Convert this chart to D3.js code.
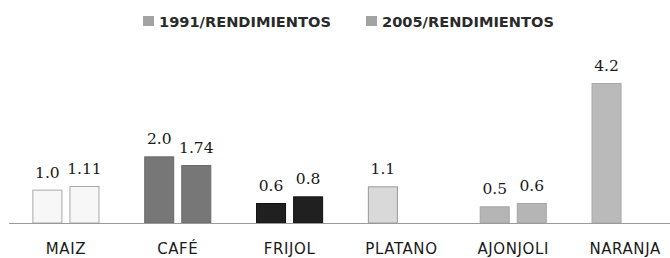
<!DOCTYPE html>
<html><head><meta charset="utf-8">
<script src="https://cdn.jsdelivr.net/npm/d3@7"></script>
<style>html,body{margin:0;padding:0;background:#fff;}</style>
</head><body>
<script>
const categories = ["MAIZ", "CAFÉ", "FRIJOL", "PLATANO", "AJONJOLI", "NARANJA"];
const series = ["1991/RENDIMIENTOS", "2005/RENDIMIENTOS"];
const values1991 = [1.0, 2.0, 0.6, 1.1, 0.5, 4.2];
const values2005 = [1.11, 1.74, 0.8, null, 0.6, null];
const labels1991 = ["1.0", "2.0", "0.6", "1.1", "0.5", "4.2"];
const labels2005 = ["1.11", "1.74", "0.8", "", "0.6", ""];
const categoryFills = ["#f7f7f7", "#777777", "#202020", "#d9d9d9", "#b5b5b5", "#bababa"];
const categoryStrokes = ["#a8a8a8", "#6a6a6a", "#111111", "#9a9a9a", "#a5a5a5", "#a8a8a8"];

const W = 670, H = 258;
const svg = d3.select("body").append("svg").attr("width", W).attr("height", H);

const x = d3.scaleBand().domain(categories).range([10, 681]).paddingInner(0.4).paddingOuter(0.2);
const xs = d3.scaleBand().domain(series).range([0, x.bandwidth()]).paddingInner(0.19);
const y = d3.scaleLinear().domain([0, 4.5]).range([223, 73]);

const data = [];
categories.forEach((c, i) => {
  [values1991, values2005].forEach((arr, j) => {
    if (arr[i] != null) data.push({c, i, s: series[j], v: arr[i], label: (j === 0 ? labels1991 : labels2005)[i]});
  });
});

svg.append("g").selectAll("rect").data(data).join("rect")
  .attr("x", d => x(d.c) + xs(d.s) + 0.5)
  .attr("y", d => y(d.v) + 0.5)
  .attr("width", xs.bandwidth() - 1)
  .attr("height", d => y(0) - y(d.v) - 0.5)
  .attr("fill", d => categoryFills[d.i])
  .attr("stroke", d => categoryStrokes[d.i])
  .attr("stroke-width", 1);

svg.append("g").selectAll("text").data(data).join("text")
  .attr("x", d => x(d.c) + xs(d.s) + xs.bandwidth() / 2)
  .attr("y", d => y(d.v) - 12)
  .attr("text-anchor", "middle")
  .attr("font-family", "DejaVu Serif")
  .attr("font-size", 15.5)
  .attr("fill", "#1a1a1a")
  .text(d => d.label);

const axis = d3.axisBottom(x).tickSize(0).tickPadding(20);
const ag = svg.append("g").attr("transform", "translate(0,223)").call(axis);
ag.select(".domain").attr("d", "M9,0.5H670").attr("stroke", "#9a9a9a");
ag.selectAll("text").attr("font-family", "DejaVu Sans").attr("font-size", 15).attr("fill", "#1a1a1a")
  .attr("letter-spacing", 0.6);

const legend = svg.append("g");
const legX = [143, 366];
series.forEach((s, j) => {
  legend.append("rect").attr("x", legX[j]).attr("y", 16).attr("width", 11).attr("height", 10).attr("fill", "#a3a3a3");
  legend.append("text").attr("x", legX[j] + 16).attr("y", 26.5)
    .attr("font-family", "DejaVu Sans").attr("font-weight", "bold").attr("font-size", 14.6)
    .attr("fill", "#2a2a2a").text(s);
});
</script>
</body></html>
